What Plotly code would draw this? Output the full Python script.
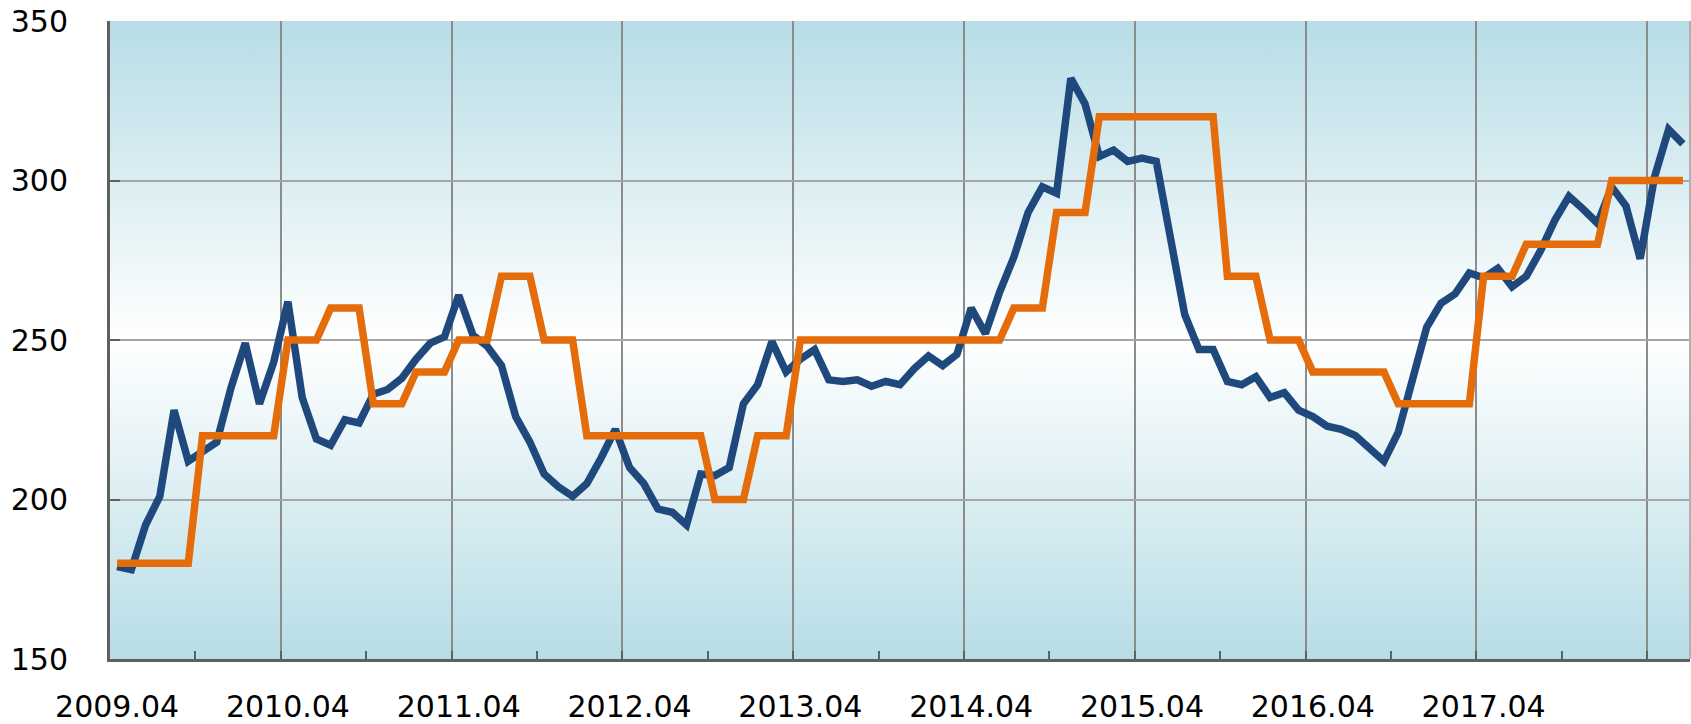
import base64
import plotly.graph_objects as go

# ---- data ----
months = ["2009.04", "2010.04", "2011.04", "2012.04", "2013.04",
          "2014.04", "2015.04", "2016.04", "2017.04"]  # labelled months (every 12th)
blue = [179, 178, 192, 201, 228, 212, 215, 218, 235, 249, 230, 243,
        262, 232, 219, 217, 225, 224, 233, 234.5, 238, 244, 249, 251,
        264, 251.5, 248, 242, 226, 218, 208, 204, 201, 205, 213, 222,
        210, 205, 197, 196, 192, 208, 207.5, 210, 230, 236, 249.5, 240,
        244, 247, 237.5, 237, 237.5, 235.5, 237, 236, 241, 245, 242, 245.5,
        260, 252, 265, 276, 290, 298, 296, 332, 324, 307.5, 309.5, 306,
        307, 306, 282, 258, 247, 247, 237, 236, 238.5, 232, 233.5, 228,
        226, 223, 222, 220, 216, 212, 221, 238, 254, 261.5, 264.5, 271,
        269.5, 272.5, 266.7, 270, 278, 287.5, 295, 291, 286.6, 298, 292, 275.5,
        301, 316, 311.5]
orange = ([180] * 6 + [220] * 6 + [250] * 3 + [260] * 3 + [230] * 3 + [240] * 3 +
          [250] * 3 + [270] * 3 + [250] * 3 + [220] * 9 + [200] * 3 + [220] * 3 +
          [250] * 15 + [260] * 3 + [290] * 3 + [320] * 9 + [270] * 3 + [250] * 3 +
          [240] * 6 + [230] * 6 + [270] * 3 + [280] * 6 + [300] * 6)
yticks = [150, 200, 250, 300, 350]

n = len(blue)
idx = list(range(n))

FONT = "DejaVu Sans"
BLUE = "#1F497D"
ORANGE = "#E46C0A"

svg = ('<svg xmlns="http://www.w3.org/2000/svg" width="100" height="100" '
       'viewBox="0 0 100 100" preserveAspectRatio="none">'
       '<defs><linearGradient id="g" x1="0" y1="0" x2="0" y2="1">'
       '<stop offset="0" stop-color="#b7dde6"/>'
       '<stop offset="0.5" stop-color="#ffffff"/>'
       '<stop offset="1" stop-color="#b7dde6"/>'
       '</linearGradient></defs>'
       '<rect x="0" y="0" width="100" height="100" fill="url(#g)"/></svg>')
src = "data:image/svg+xml;base64," + base64.b64encode(svg.encode()).decode()

fig = go.Figure()
fig.add_trace(go.Scatter(x=idx, y=blue, mode="lines",
                         line=dict(color=BLUE, width=7.5), xaxis="x", yaxis="y",
                         showlegend=False, hoverinfo="skip"))
fig.add_trace(go.Scatter(x=idx, y=orange, mode="lines",
                         line=dict(color=ORANGE, width=7.5), xaxis="x2", yaxis="y",
                         showlegend=False, hoverinfo="skip"))

year_bounds = [i - 0.5 for i in range(12, n, 12)]
half_bounds = [i - 0.5 for i in range(6, n, 12)]
label_pos = [i for i in range(0, n, 12)][:len(months)]

fig.update_layout(
    width=1691, height=724,
    margin=dict(l=110, r=1, t=21, b=65),
    paper_bgcolor="white",
    plot_bgcolor="#dbeef2",
    font=dict(family=FONT, size=30, color="black"),
    images=[dict(source=src, xref="paper", yref="paper", x=0, y=1,
                 sizex=1, sizey=1, xanchor="left", yanchor="top",
                 sizing="stretch", layer="below")],
    xaxis=dict(range=[-0.5, n - 0.5], tickmode="array", tickvals=year_bounds,
               showticklabels=False, showgrid=True, gridcolor="#8c8c8c", gridwidth=2,
               ticks="inside", ticklen=8, tickwidth=2, tickcolor="#606060",
               showline=True, linecolor="#606060", linewidth=3, zeroline=False,
               minor=dict(tickvals=half_bounds, ticks="inside", ticklen=8,
                          tickwidth=2, tickcolor="#606060", showgrid=False)),
    xaxis2=dict(overlaying="x", matches="x", side="bottom", tickmode="array",
                tickvals=label_pos, ticktext=months, showgrid=False, ticks="",
                showline=False, zeroline=False, ticklabelstandoff=27,
                tickfont=dict(family=FONT, size=30, color="black")),
    yaxis=dict(range=[150, 350], tickmode="array", tickvals=yticks,
               showgrid=True, gridcolor="#a6a6a6", gridwidth=2,
               ticks="inside", ticklen=10, tickwidth=2, tickcolor="#606060",
               showline=True, linecolor="#606060", linewidth=3, zeroline=False,
               ticklabelstandoff=33,
               tickfont=dict(family=FONT, size=30, color="black")),
    shapes=[dict(type="line", xref="paper", yref="paper", x0=1, x1=1, y0=0, y1=1,
                 line=dict(color="#b0b0b0", width=2), layer="above")],
)

fig.write_html("out.html", config={"displayModeBar": False},
               post_script="document.body.style.margin='0';document.body.style.overflow='hidden';")
